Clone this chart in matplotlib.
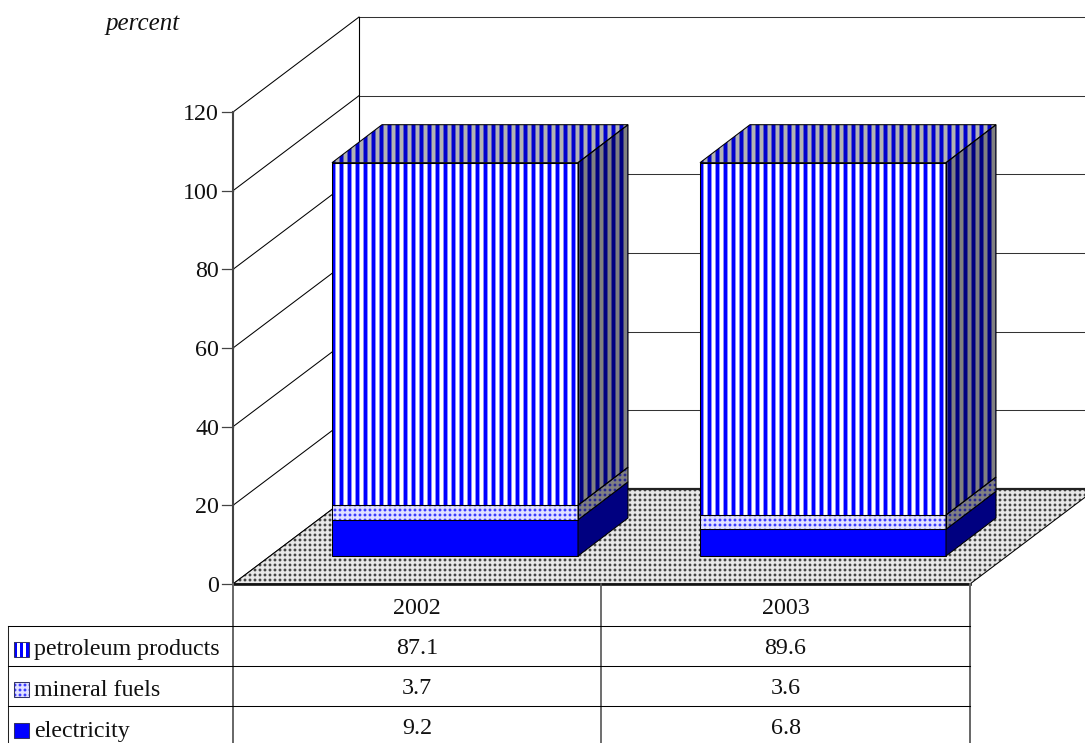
import numpy as np
import matplotlib
matplotlib.use('Agg')
import matplotlib.pyplot as plt
from matplotlib.patches import Polygon, Rectangle

plt.rcParams['font.family'] = ['Liberation Serif', 'DejaVu Serif']

years = ['2002', '2003']
series = ['petroleum products', 'mineral fuels', 'electricity']
petroleum = [87.1, 89.6]
mineral = [3.7, 3.6]
electricity = [9.2, 6.8]
ticks = [0, 20, 40, 60, 80, 100, 120]

W, H = 1085, 743
PX_PER_PCT = 3.933
Y_ZERO = 584          # pixel row of the 0 tick
BASE = 28 / PX_PER_PCT    # bars stand this far in front of the back of the floor
BAR_DX, BAR_DZ = 50, 38 / PX_PER_PCT
WALL_DX, WALL_DZ = 126, 95 / PX_PER_PCT
AX_L, AX_R = 233, 970
BAR_LEFT = [332, 700]
BAR_W = 246
FONT = 17.3


def rgb(*c):
    return np.array(c, dtype=float) / 255


def screen_fill(tile):
    # repeat a small tile over the whole figure, one cell per pixel
    tile = np.asarray(tile, dtype=float)
    ny = H // tile.shape[0] + 1
    nx = W // tile.shape[1] + 1
    return np.tile(tile, (ny, nx, 1))[:H, :W]


def stripes(a, mid, b):
    return screen_fill([[a, a, a, mid, b, b, b, mid]])


def dots(bg, edge, dot):
    return screen_fill([[dot, edge, bg, edge, dot],
                        [edge, bg, bg, bg, edge],
                        [bg, bg, bg, bg, bg],
                        [edge, bg, bg, bg, edge],
                        [dot, edge, bg, edge, dot]])


white, blue = rgb(255, 255, 255), rgb(0, 0, 255)
navy = rgb(0, 0, 128)
stripe_front = stripes(white, rgb(140, 140, 255), blue)
stripe_top = stripes(rgb(178, 178, 178), rgb(90, 90, 190), rgb(0, 0, 204))
stripe_side = stripes(rgb(128, 128, 128), rgb(64, 64, 128), navy)
dot_front = dots(rgb(225, 225, 255), rgb(170, 170, 255), rgb(60, 60, 255))
dot_side = dots(rgb(128, 128, 128), rgb(100, 100, 140), rgb(40, 40, 140))
dot_floor = dots(rgb(232, 232, 232), rgb(180, 180, 180), rgb(70, 70, 70))
# the legend key uses a coarser stripe than the bars
stripe_key = screen_fill([[white, white, blue, blue, blue, white]])

fig = plt.figure(figsize=(W / 100, H / 100), dpi=100)
ax = fig.add_axes([0, 0, 1, 1])
ax.set_axis_off()
ylim = ((Y_ZERO - H) / PX_PER_PCT, Y_ZERO / PX_PER_PCT)
extent = (0, W, ylim[0], ylim[1])


def face(pts, fill=None, z=2, lw=0.75):
    im = ax.imshow(fill, extent=extent, aspect='auto', interpolation='nearest', zorder=z)
    im.set_clip_path(Polygon(pts, closed=True, transform=ax.transData))
    ax.add_patch(Polygon(pts, closed=True, fc='none', ec='black', lw=lw, zorder=z + 0.1))


def solid(pts, color, z=2, lw=0.75):
    ax.add_patch(Polygon(pts, closed=True, fc=color, ec='black', lw=lw, zorder=z))


# side wall and back wall grid
for t in ticks:
    ax.plot([AX_L, AX_L + WALL_DX], [t, t + WALL_DZ], color='black', lw=0.75, zorder=1)
    ax.plot([AX_L - 11, AX_L], [t, t], color='#444444', lw=0.9, zorder=1)
    ax.text(219, t - 0.6, str(t), ha='right', va='center', fontsize=FONT, color='#111111')
    if t > 0:
        ax.plot([AX_L + WALL_DX, W + 5], [t + WALL_DZ, t + WALL_DZ], color='#333333', lw=0.75, zorder=1)
ax.plot([AX_L + WALL_DX, AX_L + WALL_DX], [WALL_DZ, 120 + WALL_DZ], color='black', lw=0.8, zorder=1)
ax.plot([AX_L, AX_L], [0, 120], color='#444444', lw=1.5, zorder=1)

# floor
floor = [(AX_L, 0), (AX_R, 0), (AX_R + WALL_DX, WALL_DZ), (AX_L + WALL_DX, WALL_DZ)]
face(floor, dot_floor, z=1.5)
ax.plot([AX_L, AX_R], [0, 0], color='#111111', lw=1.9, zorder=1.8)
ax.plot([AX_L + WALL_DX, W + 5], [WALL_DZ, WALL_DZ], color='#222222', lw=1.6, zorder=1.8)

# stacked bars, bottom segment first
for i, x0 in enumerate(BAR_LEFT):
    x1 = x0 + BAR_W
    bottom = BASE
    stack = [(electricity[i], None, None),
             (mineral[i], dot_front, dot_side),
             (petroleum[i], stripe_front, stripe_side)]
    for val, front, side in stack:
        top = bottom + val
        f_pts = [(x0, bottom), (x1, bottom), (x1, top), (x0, top)]
        s_pts = [(x1, bottom), (x1 + BAR_DX, bottom + BAR_DZ),
                 (x1 + BAR_DX, top + BAR_DZ), (x1, top)]
        if front is None:
            solid(f_pts, blue, z=3)
            solid(s_pts, navy, z=3)
        else:
            face(f_pts, front, z=3)
            face(s_pts, side, z=3)
        bottom = top
    face([(x0, bottom), (x1, bottom), (x1 + BAR_DX, bottom + BAR_DZ),
          (x0 + BAR_DX, bottom + BAR_DZ)], stripe_top, z=3)

ax.set_xlim(0, W)
ax.set_ylim(*ylim)

# data table, laid out in pixels on its own axes
tb = fig.add_axes([0, 0, 1, 1], facecolor='none')
tb.set_axis_off()
tb.set_xlim(0, W)
tb.set_ylim(H, 0)

row_lines = [626, 666, 706]
col_mid = 601
col_left = 8
tb.plot([AX_L, AX_L], [Y_ZERO, H], color='#666666', lw=1.4)
tb.plot([col_mid, col_mid], [Y_ZERO, H], color='#555555', lw=1.2)
tb.plot([AX_R, AX_R], [Y_ZERO, H], color='#666666', lw=1.4)
tb.plot([col_left, col_left], [626, H], color='#222222', lw=0.75)
for r in row_lines:
    tb.plot([col_left, AX_R], [r, r], color='black', lw=0.75)

centres = [(AX_L + col_mid) / 2, (col_mid + AX_R) / 2]
for c, y in zip(centres, years):
    tb.text(c, 608.5, y, ha='center', va='center', fontsize=FONT, color='#111111')

rows = [petroleum, mineral, electricity]
row_y = [650, 690, 731]
swatches = [stripe_key, dot_front, None]
for name, vals, ym, sw in zip(series, rows, row_y, swatches):
    tb.text(34, ym, name, ha='left', va='center', fontsize=FONT, color='#111111')
    for c, v in zip(centres, vals):
        tb.text(c, ym - 2, f'{v}', ha='center', va='center', fontsize=FONT, color='#111111')
    box = Rectangle((14, ym - 8), 15, 15, fc=blue if sw is None else 'none',
                    ec='#333366', lw=0.75, zorder=3)
    if sw is not None:
        im = tb.imshow(sw, extent=(0, W, H, 0), aspect='auto', interpolation='nearest', zorder=2)
        im.set_clip_path(Rectangle((14, ym - 8), 15, 15, transform=tb.transData))
    tb.add_patch(box)

tb.set_xlim(0, W)
tb.set_ylim(H, 0)
tb.text(180, 24, 'percent', ha='right', va='center', fontsize=18, style='italic', color='#111111')

fig.savefig('out.png', dpi=100)
